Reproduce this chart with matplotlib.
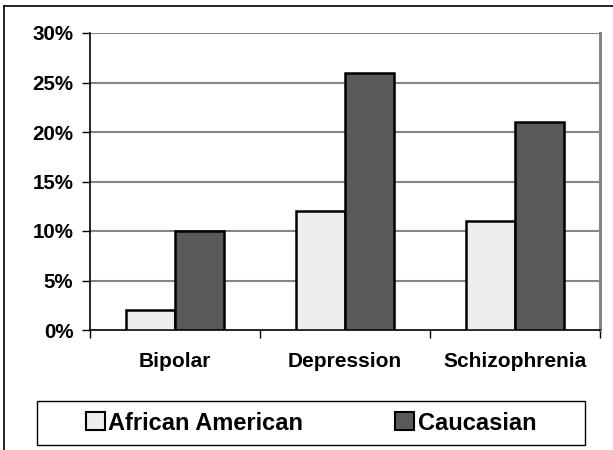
import numpy as np
import matplotlib.pyplot as plt
from matplotlib.patches import Patch, Rectangle
from matplotlib.lines import Line2D

plt.rcParams['font.family'] = ['Liberation Sans', 'DejaVu Sans']
plt.rcParams['font.weight'] = 'bold'

categories = ['Bipolar', 'Depression', 'Schizophrenia']
african_american = [2, 12, 11]
caucasian = [10, 26, 21]
series_names = ['African American', 'Caucasian']
yticks = [0, 5, 10, 15, 20, 25, 30]

light = '#eeeeee'
dark = '#5a5a5a'
grid_col = '#858585'

fig = plt.figure(figsize=(6.13, 4.5), dpi=100)
ax = fig.add_axes([90 / 613, 1 - 330 / 450, 510 / 613, 297 / 450])

x = np.arange(len(categories))
w = 0.288
ax.bar(x - w / 2, african_american, w, color=light, edgecolor='black', linewidth=1.8, zorder=3)
ax.bar(x + w / 2, caucasian, w, color=dark, edgecolor='black', linewidth=1.8, zorder=3)

ax.set_xlim(-0.5, 2.5)
ax.set_ylim(0, 30)
ax.set_yticks(yticks)
ax.set_yticklabels([f'{v}%' for v in yticks], fontsize=14.8, fontweight='bold')
for v in yticks[1:]:
    ax.axhline(v, color=grid_col, linewidth=1.5, zorder=1)

# category boundaries get the tick marks, names sit between them
ax.set_xticks([-0.5, 0.5, 1.5, 2.5])
ax.set_xticklabels([])
ax.set_xticks(x, minor=True)
ax.set_xticklabels(categories, minor=True, fontsize=15, fontweight='bold')
ax.tick_params(axis='x', which='minor', length=0, pad=16)
ax.tick_params(axis='x', which='major', length=6, width=1, direction='out')
ax.tick_params(axis='y', length=6, width=1, direction='out', pad=6)

ax.spines['top'].set_visible(False)
ax.spines['right'].set_color(grid_col)
ax.spines['right'].set_linewidth(2.2)
ax.spines['left'].set_linewidth(1.2)
ax.spines['bottom'].set_linewidth(1.2)

# legend box drawn separately so the entries can sit centred inside it
fig.add_artist(Rectangle((37 / 613, 1 - 445 / 450), 548 / 613, 44 / 450,
                         transform=fig.transFigure, facecolor='white',
                         edgecolor='black', linewidth=1.0))
handles = [Patch(facecolor=light, edgecolor='black', linewidth=1.5),
           Patch(facecolor=dark, edgecolor='black', linewidth=1.5)]
fig.legend(handles, series_names, loc='center', ncol=2,
           bbox_to_anchor=(311 / 613, 1 - 423 / 450),
           prop={'weight': 'bold', 'size': 17},
           handlelength=0.8, handleheight=0.8, handletextpad=0.15,
           columnspacing=3.9, frameon=False, borderpad=0)

# outer chart frame
fig.add_artist(Line2D([4 / 613, 4 / 613], [0, 1 - 6 / 450], color='black', linewidth=1.2))
fig.add_artist(Line2D([4 / 613, 1], [1 - 6 / 450, 1 - 6 / 450], color='black', linewidth=1.2))

fig.savefig('out.png', dpi=100)
